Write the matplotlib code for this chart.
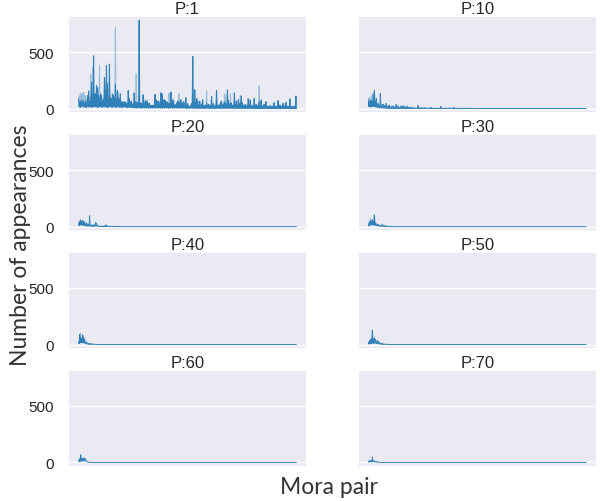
import numpy as np
import matplotlib
matplotlib.use("Agg")
import matplotlib.pyplot as plt
import seaborn as sns

sns.set_theme(style="darkgrid")
plt.rcParams["font.family"] = ["Liberation Sans", "DejaVu Sans"]

titles = ["P:1", "P:10", "P:20", "P:30", "P:40", "P:50", "P:60", "P:70"]
n_cols = 220  # mora-pair columns (two samples each)

# ---- P:1 : peak / low per column, plus light (upper) spikes
p1_peak = [
    88, 60, 70, 55, 75, 60, 50, 70, 45, 117,
    155, 60, 100, 234, 120, 467, 130, 130, 204, 184,
    120, 100, 130, 120, 67, 80, 277, 170, 380, 219,
    80, 394, 100, 88, 130, 117, 100, 213, 80, 160,
    100, 80, 130, 60, 58, 60, 58, 58, 50, 40,
    160, 88, 50, 67, 40,
    40, 140, 60, 50, 58, 45, 780, 40, 50, 35,
    123, 40, 58, 67, 55, 30, 50, 25, 30, 30,
    30, 20, 126, 79, 40, 67, 50, 30, 140, 131,
    40, 79, 73, 40, 61, 30, 50, 40, 146, 50,
    79, 40, 30, 35, 50, 67, 60, 40, 79, 40,
    45, 58, 30, 96, 30, 44, 15, 20, 30,
    44, 461, 60, 166, 50, 88, 67, 30, 67, 30,
    40, 79, 20, 30, 25, 50, 30, 38, 25, 30,
    108, 30, 44, 20, 25, 160, 30, 25, 30, 58,
    67, 30, 40, 60, 50, 40, 166, 73, 40, 50,
    50, 25, 30, 140, 40, 67, 30, 79, 40, 60,
    111, 50, 30, 25, 38, 20, 30, 88,
    30, 76, 25, 20, 30, 90, 25, 38, 20, 25,
    60, 20, 76, 20, 25, 38, 15, 61, 20, 15,
    20, 26, 15, 20, 15, 52, 15, 20, 15, 70,
    15, 32, 15, 20, 47, 15, 25, 55, 15, 20,
    15, 85, 15, 18, 15, 20, 15, 111,
]
p1_light = [
    100, 120, 137, 120, 137, 146, 120, 110, 80, 117,
    155, 90, 307, 234, 365, 467, 130, 130, 204, 184,
    184, 380, 130, 120, 80, 90, 277, 248, 380, 219,
    90, 394, 100, 88, 130, 117, 100, 715, 90, 160,
    146, 90, 130, 60, 58, 60, 60, 60, 50, 40,
    160, 88, 50, 67, 50,
    40, 140, 70, 307, 58, 50, 780, 45, 50, 40,
    123, 45, 79, 67, 79, 35, 50, 30, 30, 30,
    30, 25, 126, 79, 45, 67, 67, 35, 140, 131,
    45, 79, 73, 40, 61, 35, 137, 45, 146, 55,
    79, 67, 35, 40, 55, 67, 131, 45, 79, 45,
    67, 58, 35, 96, 35, 44, 20, 20, 30,
    44, 461, 166, 166, 60, 88, 67, 35, 67, 35,
    45, 79, 25, 30, 30, 155, 35, 38, 30, 30,
    108, 35, 44, 25, 30, 160, 35, 30, 35, 58,
    67, 35, 50, 131, 117, 45, 166, 73, 45, 131,
    50, 30, 35, 140, 45, 67, 35, 79, 45, 117,
    111, 50, 35, 30, 38, 25, 35, 88,
    35, 76, 30, 25, 35, 90, 30, 38, 25, 30,
    201, 25, 76, 25, 30, 38, 20, 61, 25, 20,
    25, 30, 20, 25, 20, 52, 20, 25, 20, 70,
    20, 32, 20, 25, 47, 20, 30, 55, 20, 25,
    20, 85, 20, 20, 20, 25, 20, 111,
]
p1_low = [
    20, 12, 25, 18, 30, 15, 22, 10, 28, 16,
    20, 14, 26, 12, 24, 18, 30, 15, 20, 10,
    25, 18, 22, 12, 28, 16, 20, 14, 24, 10,
    26, 18, 20, 12, 22, 15, 28, 10, 20, 16,
    24, 12, 18, 10, 22, 14, 20, 12, 16, 10,
    18, 12, 15, 10, 14,
    10, 8, 12, 6, 10, 8, 12, 5, 9, 7,
    10, 6, 12, 8, 10, 5, 9, 7, 8, 6,
    10, 5, 12, 8, 9, 6, 10, 7, 8, 5,
    11, 6, 9, 8, 10, 5, 8, 7, 12, 6,
    9, 5, 10, 8, 7, 6, 9, 5, 10, 7,
    8, 6, 9, 5, 4, 6, 5, 7, 6,
    6, 5, 8, 4, 7, 5, 6, 3, 8, 4,
    6, 5, 3, 6, 4, 7, 5, 4, 6, 3,
    8, 4, 5, 3, 6, 5, 4, 7, 3, 6,
    5, 4, 8, 5, 6, 3, 7, 4, 5, 6,
    3, 5, 4, 7, 5, 3, 6, 4, 5, 3,
    6, 4, 5, 3, 4, 6, 3, 5,
    4, 3, 5, 2, 4, 3, 5, 2, 3, 4,
    2, 5, 3, 2, 4, 3, 2, 5, 3, 2,
    4, 3, 2, 3, 4, 2, 3, 2, 4, 3,
    2, 3, 2, 4, 3, 2, 3, 2, 4, 2,
    3, 2, 3, 2, 2, 3, 2, 0,
]

# ---- P:10
p10_peak = [
    76, 60, 70, 76, 60, 120, 158, 60, 90, 40,
    47, 30, 134, 30, 38, 38, 30, 25, 47, 20,
    25, 30, 15, 18, 18, 25, 12, 15, 38, 12,
    26, 10, 12, 26, 15, 23, 23, 10, 12, 23,
    15, 8, 10, 15, 9, 6, 8, 6, 5, 6,
    29, 8, 5, 9, 5, 8, 4, 9, 5, 6,
    4, 5, 6, 12, 4, 5, 3, 5, 4, 3,
    5, 3, 4, 20, 3,
    3, 4, 3, 5, 3, 4, 3, 6, 4, 3,
    5, 12, 3, 4, 3, 5, 4, 3, 4, 3,
    5, 3, 4, 3, 4, 3, 3, 5, 3, 4,
    3, 3, 4, 3, 3,
]
p10_light = [90, 100, 80, 105, 134, 134, 158, 60, 90, 40]
p10_low = [20, 15, 25, 18, 30, 20, 25, 15, 20, 10,
           12, 8, 10, 6, 8, 5, 6, 4, 5, 3]

# ---- P:20 .. P:70 (flat at zero after the head)
p20_peak = [30, 44, 58, 40, 50, 44, 35, 20, 30, 15,
            20, 96, 20, 8, 10, 20, 12, 35, 30, 8,
            5, 4, 3, 4, 3, 5, 4, 15, 12, 4,
            3, 3, 2, 3, 2, 2, 3, 2, 2, 2, 2]
p20_light = [35, 50, 58, 45, 58, 50, 40, 25, 35, 20]
p20_low = [10, 15, 20, 12, 15, 12, 10, 6, 8, 4,
           5, 6, 4, 2, 3, 5, 3, 8, 6, 2]

p30_peak = [20, 40, 44, 50, 58, 44, 102, 30, 25, 15,
            20, 12, 10, 8, 20, 6, 8, 5, 4, 5,
            3, 2, 3, 2, 2]
p30_light = [25, 45, 73, 55, 60, 48, 102, 35]
p30_low = [8, 12, 15, 15, 18, 12, 20, 10, 8, 5,
           6, 4, 3, 2, 5, 2, 2, 1, 1, 1]

p40_peak = [20, 88, 60, 50, 82, 60, 44, 20, 23, 10,
            8, 6, 8, 5, 4, 3, 2, 2]
p40_light = [25, 90, 102, 55, 85, 62, 46]
p40_low = [8, 20, 18, 15, 20, 15, 12, 6, 6, 3,
           2, 2, 2, 1, 1, 1, 1, 1]

p50_peak = [15, 30, 40, 50, 123, 40, 58, 44, 30, 35,
            25, 20, 12, 8, 10, 5, 4, 3, 2, 2]
p50_light = [18, 35, 45, 55, 123, 45, 60]
p50_low = [5, 8, 10, 12, 15, 10, 15, 12, 8, 10,
           6, 5, 3, 2, 2, 1, 1, 1, 1, 1]

p60_peak = [20, 30, 67, 30, 38, 35, 38, 30, 10, 5, 3, 2, 2]
p60_light = [22, 32, 67, 32]
p60_low = [8, 10, 15, 12, 15, 14, 15, 12, 4, 2, 1, 1, 1]

p70_peak = [10, 15, 12, 15, 47, 12, 15, 10, 8, 3, 2, 2]
p70_light = [12, 18, 14, 18]
p70_low = [4, 6, 5, 6, 8, 5, 6, 4, 3, 1, 1, 1]

tail_level = {"P:10": 2}  # flat level after the listed head (others 0)

series = {
    "P:1": (p1_peak, p1_low, p1_light),
    "P:10": (p10_peak, p10_low, p10_light),
    "P:20": (p20_peak, p20_low, p20_light),
    "P:30": (p30_peak, p30_low, p30_light),
    "P:40": (p40_peak, p40_low, p40_light),
    "P:50": (p50_peak, p50_low, p50_light),
    "P:60": (p60_peak, p60_low, p60_light),
    "P:70": (p70_peak, p70_low, p70_light),
}

fig, axes = plt.subplots(4, 2, figsize=(6.0, 5.02), dpi=100,
                         sharex=True, sharey=True)
fig.subplots_adjust(left=0.113, right=0.995, top=0.966, bottom=0.068,
                    wspace=0.21, hspace=0.215)

color = "#1f77b4"
for ax, name in zip(axes.ravel(), titles):
    peak, low, light = series[name]
    n_head = len(peak)
    tl = tail_level.get(name, 0)
    full_peak = list(peak) + [tl] * (n_cols - n_head)
    full_low = list(low) + [max(tl - 1, 0)] * (n_cols - len(low))
    y = np.column_stack([full_peak, full_low]).ravel()
    x = np.arange(len(y))
    yl = np.column_stack([light, full_low[:len(light)]]).ravel()
    xl = np.arange(len(yl))
    ax.plot(xl, yl, color=color, lw=0.8, alpha=0.4)
    ax.plot(x, y, color=color, lw=0.75, alpha=0.85)
    ax.set_title(name, fontsize=12, pad=2, color="0.15")
    ax.set_xticks([])
    ax.set_yticks([0, 500])
    ax.tick_params(axis="y", labelsize=11, colors="0.15", pad=4)

fig.text(0.034, 0.512, "Number of appearances", rotation=90,
         ha="center", va="center", fontsize=16.5, family="Lato",
         color="0.2")
fig.text(0.548, 0.028, "Mora pair", ha="center", va="center",
         fontsize=16.5, family="Lato", color="0.2")

fig.savefig("out.png", dpi=100)
